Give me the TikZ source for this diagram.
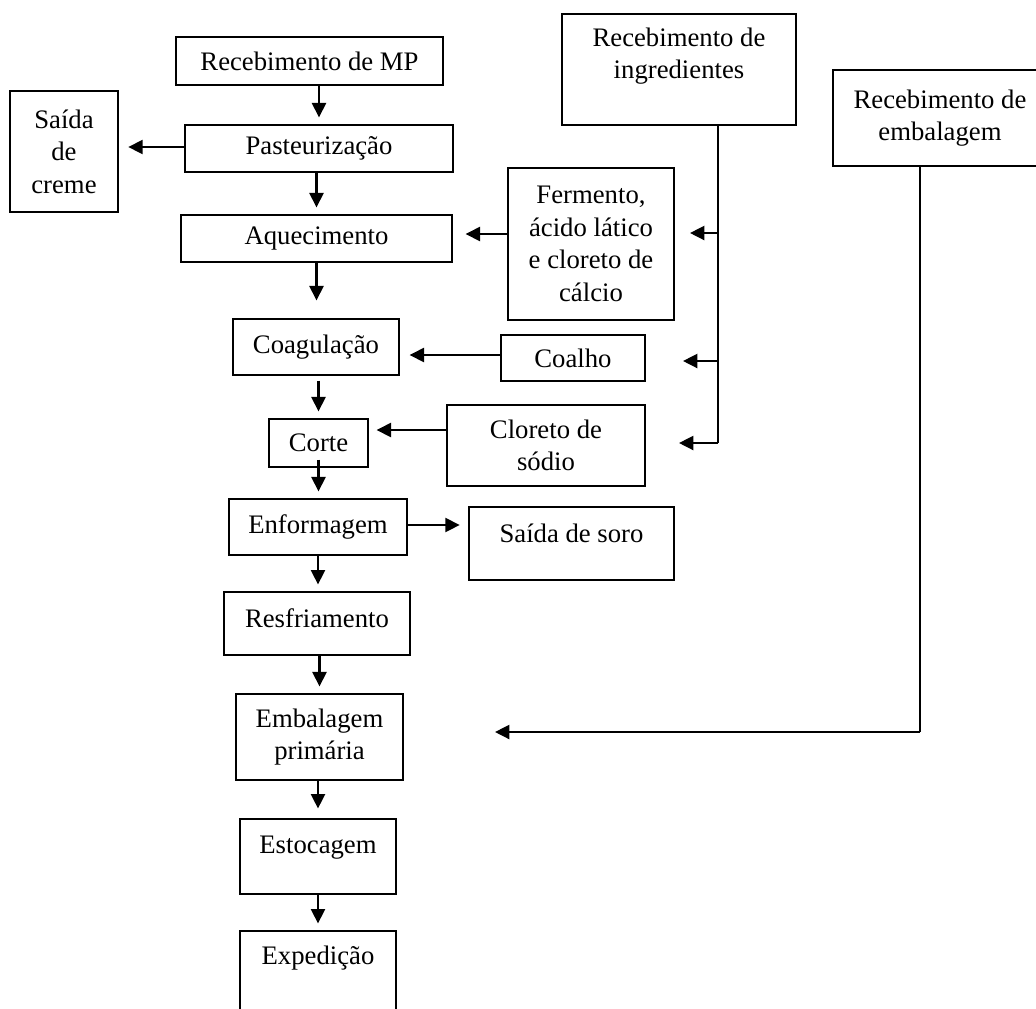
\documentclass[tikz,border=0pt]{standalone}
\usepackage{fontspec}
\setmainfont{Liberation Serif}
\usetikzlibrary{arrows.meta, positioning, calc}
\tikzset{
	box/.style={
		draw,
		line width=0.7pt,
		inner sep=0pt,
		align=center,
		font=\fontsize{15.2}{18.5}\selectfont
	},
	thickbox/.style={
		box,
		line width=1.5pt
	},
	flow/.style={
		line width=1.3pt,
		-{Triangle[length=8.2pt,width=8pt]},
		shorten >=1.4mm
	},
	bus/.style={
		line width=0.7pt
	}
}

\begin{document}
\begin{tikzpicture}[x=0.2mm, y=-0.2mm]
		\useasboundingbox (0,0) rectangle (1036,1008);
		\clip (0,0) rectangle (1036,1008);
		
		% main line
		\node[thickbox, minimum width=53.4mm, minimum height=9.6mm] (mp) at (309.5,61) {Recebimento de MP};
		\node[box, minimum width=53.6mm, minimum height=9.4mm] (pasteur) at (319,148.5) {Pasteurização};
		\node[box, minimum width=54.2mm, minimum height=9.4mm] (aquec) at (316.5,238.5) {Aquecimento};
		\node[box, minimum width=33.2mm, minimum height=11.2mm] (coag) at (316,347) {Coagulação};
		\node[box, minimum width=19.8mm, minimum height=9.6mm] (corte) at (318.5,443) {Corte};
		\node[box, minimum width=35.6mm, minimum height=11.2mm] (enform) at (318,527) {Enformagem};
		\node[box, minimum width=37.2mm, text height=19.9pt, text depth=15.9pt] (resfr) at (317,623.5) {Resfriamento};
		\node[box, minimum width=33.4mm, minimum height=17.2mm] (embprim) at (319.5,737) {Embalagem\\primária};
		\node[box, minimum width=31.2mm, text height=19.3pt, text depth=23.3pt] (estoc) at (318,856.5) {Estocagem};
		\node[box, minimum width=31.2mm, text height=19.3pt, text depth=26.2pt] (exped) at (318,971) {Expedição};
		
		% inputs and outputs
		\node[thickbox, minimum width=21.6mm, minimum height=24.2mm] (creme) at (64,151.5) {Saída\\de\\creme};
		\node[thickbox, minimum width=46.8mm, minimum height=22.2mm] (ingred) at (679,69.5) {Recebimento de\\ingredientes\\\mbox{}};
		\node[thickbox, minimum width=42.8mm, minimum height=19.2mm] (embrec) at (940,118) {Recebimento de\\embalagem};
		\node[box, minimum width=33.2mm, minimum height=30.4mm] (ferm) at (591,244) {Fermento,\\ácido lático\\e cloreto de\\cálcio};
		\node[box, minimum width=28.8mm, minimum height=9.2mm] (coalho) at (573,358) {Coalho};
		\node[box, minimum width=39.6mm, minimum height=16.2mm] (cloreto) at (546,445.5) {Cloreto de\\sódio};
		\node[thickbox, minimum width=41mm, text height=20.5pt, text depth=21.1pt] (soro) at (571.5,543.5) {Saída de soro};
		
		% bus ends
		\coordinate (ingbus1) at (718,233);
		\coordinate (ingbus2) at (718,361);
		\coordinate (ingbus3) at (718,443);
		\coordinate (ingtip1) at (690,233);
		\coordinate (ingtip2) at (683,361);
		\coordinate (ingtip3) at (679,443);
		\coordinate (embbus) at (920,732);
		\coordinate (embtip) at (495,732);
		
		% main line connections
		\begin{scope}[flow]
		\draw (mp.south -| pasteur.north) -- (pasteur.north);
		\draw (pasteur.south -| aquec.north) -- (aquec.north);
		\draw[shorten >=3.6mm] (aquec.south) -- (aquec.south |- coag.north);
		\draw[shorten <=1mm] (coag.south -| corte.north) -- (corte.north);
		\draw ($(corte.south)+(0,-8)$) -- (corte.south |- enform.north);
		\draw (enform.south) -- (enform.south |- resfr.north);
		\draw (resfr.south -| embprim.north) -- (embprim.north);
		\draw[shorten >=2mm] (embprim.south -| estoc.north) -- (estoc.north);
		\draw (estoc.south) -- (exped.north);
		\end{scope}
		
		% side connections
		\begin{scope}[flow]
		\draw[shorten >=1.8mm] (pasteur.west |- 0,147) -- (creme.east |- 0,147);
		\draw[shorten >=2.6mm] (ferm.west |- 0,234) -- (aquec.east |- 0,234);
		\draw[shorten >=2mm] (coalho.west |- 0,355) -- (coag.east |- 0,355);
		\draw[shorten >=1.6mm] (cloreto.west |- 0,430) -- (corte.east |- 0,430);
		\draw[shorten >=1.6mm] (enform.east |- 0,525) -- (soro.west |- 0,525);
		\end{scope}
		
		% ingredients and packaging supply
		\draw[bus] (ingbus1 |- ingred.south) -- (ingbus3);
		\draw[bus] (embbus |- embrec.south) -- (embbus);
		\begin{scope}[flow, shorten >=0pt]
		\draw (ingbus1) -- (ingtip1);
		\draw (ingbus2) -- (ingtip2);
		\draw (ingbus3) -- (ingtip3);
		\draw (embbus) -- (embtip);
		\end{scope}
		
\end{tikzpicture}
\end{document}
